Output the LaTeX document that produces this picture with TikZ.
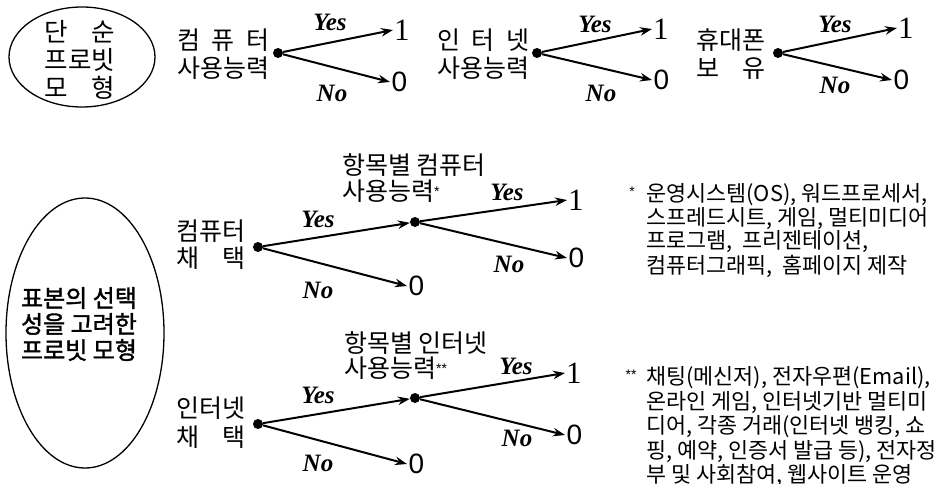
\documentclass[tikz,border=0pt]{standalone}
\usepackage{fontspec}
\usepackage{calc}
\setmainfont{Noto Sans CJK KR}
\newfontfamily\korbold{Noto Sans CJK KR}[FakeBold=1.6]
\newfontfamily\tms{Liberation Serif}
\newfontfamily\arl{Liberation Sans}
\usetikzlibrary{arrows.meta,shapes.geometric}

\tikzset{
  lab/.style={inner sep=0pt, anchor=west, font=\fontsize{25}{30}\selectfont},
  note/.style={inner sep=0pt, anchor=west, font=\fontsize{21.8}{24}\selectfont},
  yn/.style={inner sep=0pt, font=\tms\bfseries\itshape\fontsize{25}{25}\selectfont},
  one/.style={inner sep=1pt, anchor=west, font=\tms\fontsize{31}{31}\selectfont},
  zero/.style={inner sep=1.5pt, anchor=west, font=\arl\fontsize{28}{28}\selectfont},
  dotn/.style={circle, fill=black, inner sep=0pt, minimum size=10pt},
  arr/.style={line width=2pt, -{Stealth[length=12pt,width=8.5pt]}},
  oval/.style={ellipse, draw, line width=1.3pt, inner sep=0pt},
  ovaltxt/.style={inner sep=0pt, font=\fontsize{25.5}{30}\selectfont},
  bigtxt/.style={inner sep=0pt, font=\korbold\fontsize{24}{28}\selectfont},
}
% spread the letters of #2 over the width of #1
\newcommand{\spreadas}[2]{\makebox[\widthof{#1}][s]{#2}}
% small raised footnote mark
\newcommand{\smallstar}[1]{\raisebox{4pt}{\arl\fontsize{14}{14}\selectfont #1}}

\begin{document}
\begin{tikzpicture}[x=1pt,y=-1pt]
\useasboundingbox (0,0) rectangle (939,484);

% ---- simple probit model (top row) ----
\node[oval, minimum width=146pt, minimum height=100pt] (simple) at (82,57) {};
\node[ovaltxt] (s1) at (80,32) {\spreadas{프로빗}{단\hfill 순}};
\node[ovaltxt] (s2) at (80,60) {프로빗};
\node[ovaltxt] (s3) at (80,88) {\spreadas{프로빗}{모\hfill 형}};

% tree A: computer literacy
\node[lab] (lA1) at (177,40) {\spreadas{사용능력}{컴\hfill 퓨\hfill 터}};
\node[lab] (lA2) at (177,68) {사용능력};
\node[dotn] (dA) at (278,53) {};
\node[one] (yA) at (393,30) {1};
\node[zero] (nA) at (390,82) {0};
\draw[arr] (dA) -- (yA.west);
\draw[arr] (dA) -- (nA.west);
\node[yn] (tyA) at (330,22) {Yes};
\node[yn] (tnA) at (332,93) {No};

% tree B: internet literacy
\node[lab] (lB1) at (437,40) {\spreadas{사용능력}{인\hfill 터\hfill 넷}};
\node[lab] (lB2) at (437,68) {사용능력};
\node[dotn] (dB) at (537,53) {};
\node[one] (yB) at (652,29) {1};
\node[zero] (nB) at (652,80) {0};
\draw[arr] (dB) -- (yB.west);
\draw[arr] (dB) -- (nB.west);
\node[yn] (tyB) at (595,24) {Yes};
\node[yn] (tnB) at (601,93) {No};

% tree C: mobile phone ownership
\node[lab] (lC1) at (696,40) {휴대폰};
\node[lab] (lC2) at (696,69) {\spreadas{휴대폰}{보\hfill 유}};
\node[dotn] (dC) at (778,53) {};
\node[one] (yC) at (897,28) {1};
\node[zero] (nC) at (892,80) {0};
\draw[arr] (dC) -- (yC.west);
\draw[arr] (dC) -- (nC.west);
\node[yn] (tyC) at (835,24) {Yes};
\node[yn] (tnC) at (835,85) {No};

% ---- probit model with sample selection (bottom) ----
\node[oval, minimum width=158pt, minimum height=270pt] (select) at (85,333) {};
\node[bigtxt] (b1) at (79,298) {표본의 선택};
\node[bigtxt] (b2) at (79,324) {성을 고려한};
\node[bigtxt] (b3) at (79,350) {프로빗 모형};

% tree D: computer adoption
\node[lab] (lD1) at (176,231) {컴퓨터};
\node[lab] (lD2) at (176,258) {\spreadas{컴퓨터}{채\hfill 택}};
\node[dotn] (dD) at (258,247) {};
\node[dotn] (dD2) at (415,222) {};
\node[zero] (nD) at (407,286) {0};
\draw[arr] (dD) -- (dD2);
\draw[arr] (dD) -- (nD.west);
\node[yn] (tyD) at (318,219) {Yes};
\node[yn] (tnD) at (318,290) {No};
\node[lab] (lD3) at (342,165) {항목별 컴퓨터};
\node[lab] (lD4) at (342,191) {사용능력\smallstar{*}};
\node[one] (yD2) at (567,200) {1};
\node[zero] (nD2) at (567,258) {0};
\draw[arr] (dD2) -- (yD2.west);
\draw[arr] (dD2) -- (nD2.west);
\node[yn] (tyD2) at (507,192) {Yes};
\node[yn] (tnD2) at (509,264) {No};

% tree E: internet adoption
\node[lab] (lE1) at (176,408) {인터넷};
\node[lab] (lE2) at (176,437) {\spreadas{인터넷}{채\hfill 택}};
\node[dotn] (dE) at (258,424) {};
\node[dotn] (dE2) at (415,398) {};
\node[zero] (nE) at (407,464) {0};
\draw[arr] (dE) -- (dE2);
\draw[arr] (dE) -- (nE.west);
\node[yn] (tyE) at (318,395) {Yes};
\node[yn] (tnE) at (318,463) {No};
\node[lab] (lE3) at (344,343) {항목별 인터넷};
\node[lab] (lE4) at (344,368) {사용능력\smallstar{**}};
\node[one] (yE2) at (565,373) {1};
\node[zero] (nE2) at (565,435) {0};
\draw[arr] (dE2) -- (yE2.west);
\draw[arr] (dE2) -- (nE2.west);
\node[yn] (tyE2) at (516,366) {Yes};
\node[yn] (tnE2) at (517,438) {No};

% ---- footnotes ----
\node[inner sep=0pt] (ma) at (632,194) {\smallstar{*}};
\node[note] (fa1) at (646,195) {운영시스템(OS), 워드프로세서,};
\node[note] (fa2) at (646,219) {스프레드시트, 게임, 멀티미디어};
\node[note] (fa3) at (646,242) {프로그램,\ \ 프리젠테이션,};
\node[note] (fa4) at (646,266) {컴퓨터그래픽,\ \ 홈페이지 제작};

\node[inner sep=0pt] (mb) at (631,377) {\smallstar{**}};
\node[note] (fb1) at (646,378) {채팅(메신저), 전자우편(Email),};
\node[note] (fb2) at (646,403) {온라인 게임, 인터넷기반 멀티미};
\node[note] (fb3) at (646,427) {디어, 각종 거래(인터넷 뱅킹, 쇼};
\node[note] (fb4) at (646,452) {핑, 예약, 인증서 발급 등), 전자정};
\node[note] (fb5) at (646,476) {부 및 사회참여, 웹사이트 운영};
\end{tikzpicture}
\end{document}
